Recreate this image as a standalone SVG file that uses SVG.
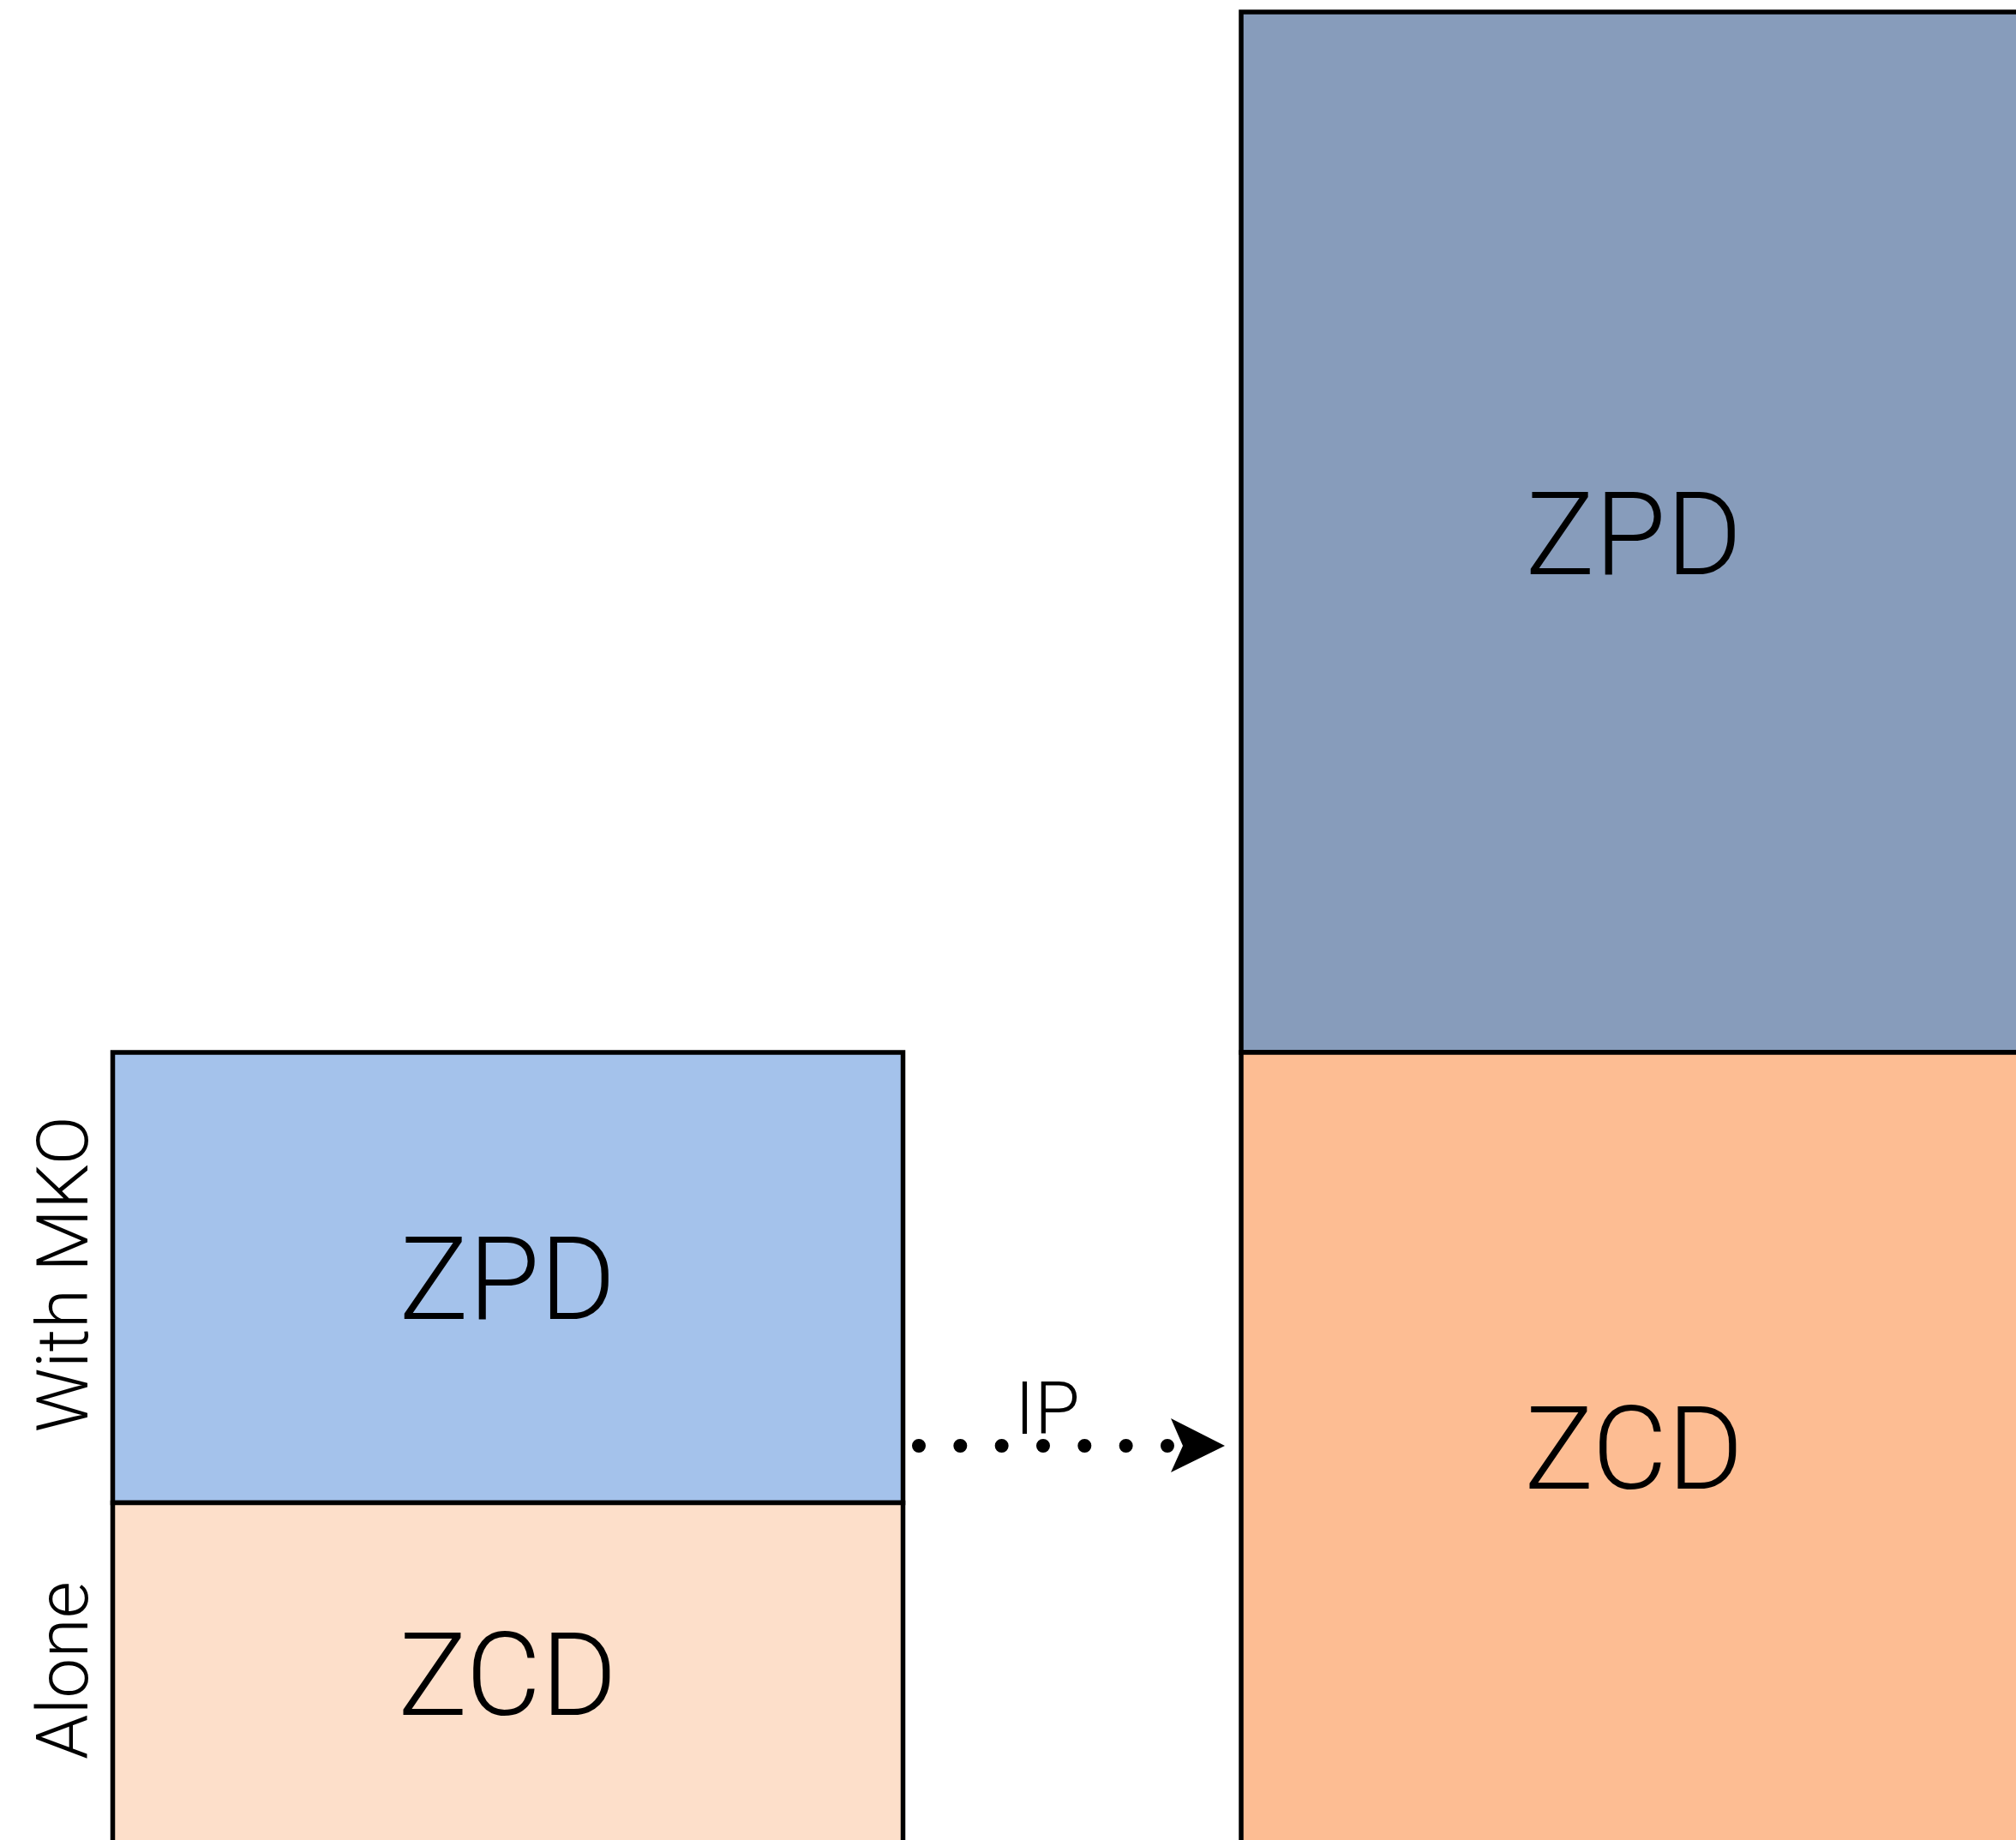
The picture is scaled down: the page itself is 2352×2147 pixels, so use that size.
<svg xmlns="http://www.w3.org/2000/svg" width="2352" height="2147" viewBox="0 0 2352 2147">
<style>
.box{stroke:#000;stroke-width:5.5}
.lbl{font-family:Roboto,"Liberation Sans",sans-serif;font-weight:300;font-size:135px;fill:#000;text-anchor:middle}
.side{font-family:Roboto,"Liberation Sans",sans-serif;font-weight:300;font-size:84px;fill:#000;text-anchor:middle}
.edge{font-family:Roboto,"Liberation Sans",sans-serif;font-weight:300;font-size:86px;fill:#000;text-anchor:middle}
</style>
<rect width="2352" height="2147" fill="#fff"/>
<g id="left-zpd">
<rect class="box" x="131.5" y="1228" width="922" height="525.5" fill="#A4C2EB"/>
<text class="lbl" x="592" y="1539">ZPD</text>
</g>
<g id="left-zcd">
<rect class="box" x="131.5" y="1753.5" width="922" height="410" fill="#FDDFCA"/>
<text class="lbl" x="592" y="2001">ZCD</text>
</g>
<g id="right-zpd">
<rect class="box" x="1448" y="14" width="1000" height="1214" fill="#879CBB"/>
<text class="lbl" x="1906" y="670">ZPD</text>
</g>
<g id="right-zcd">
<rect class="box" x="1448" y="1228" width="1000" height="940" fill="#FDBD93"/>
<text class="lbl" x="1906" y="1737">ZCD</text>
</g>
<g id="label-with-mko">
<text class="side" transform="translate(102,1487) rotate(-90)">With MKO</text>
</g>
<g id="label-alone">
<text class="side" transform="translate(102,1949) rotate(-90)">Alone</text>
</g>
<g id="connectors">
<path d="M1072,1687 H1375" fill="none" stroke="#000" stroke-width="16" stroke-linecap="round" stroke-dasharray="0 48.33"/>
<polygon points="1366,1655 1429,1687 1366,1718 1380,1687" fill="#000"/>
<text class="edge" x="1222" y="1673">IP</text>
</g>
</svg>
